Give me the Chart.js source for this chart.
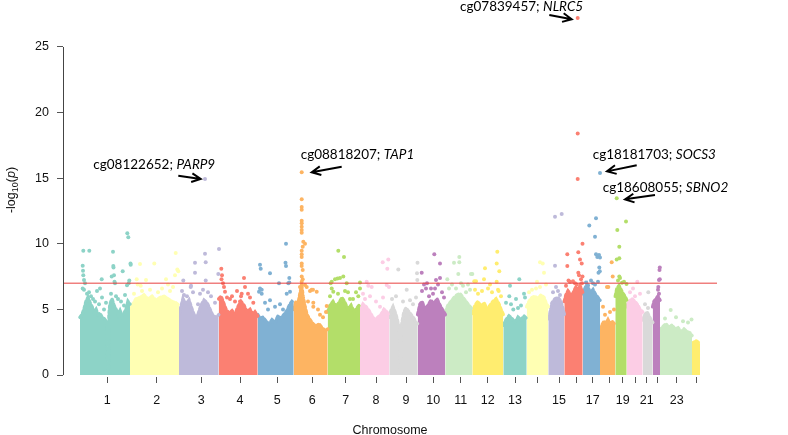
<!DOCTYPE html>
<html>
<head>
<meta charset="utf-8">
<script src="https://cdn.jsdelivr.net/npm/chart.js@4.4.1/dist/chart.umd.min.js"></script>
<style>
  html, body { margin: 0; padding: 0; background: #fff; }
  #wrap { width: 788px; height: 435px; }
</style>
</head>
<body>
<div id="wrap"><canvas id="manhattan" width="788" height="435"></canvas></div>
<script>
// chromosome axis (positions are cumulative genome units)
const chrLabels = ["1","2","3","4","5","6","7","8","9","10","11","12","13","","15","","17","","19","","21","","23",""];
const chrTicks = [27.3, 76.7, 121.3, 160, 197.3, 232.3, 265.7, 296, 326, 353.3, 380.7, 407.7, 435, 457.3, 479, 496.7, 512.7, 529.3, 542.7, 555, 566.7, 577.3, 596.7, 616.7];
const yTicks = [0, 5, 10, 15, 20, 25];
const palette = ["#8DD3C7","#FFFFB3","#BEBADA","#FB8072","#80B1D3","#FDB462","#B3DE69","#FCCDE5","#D9D9D9","#BC80BD","#CCEBC5","#FFED6F"];
const threshold = 7;

// dense lower band of each chromosome: [position, upper -log10(p)]
const chr1Body = [[0,4.4],[2,4.6],[4,5.0],[6,5.6],[8,5.9],[10,5.5],[12,5.2],[14,4.8],[16,5.0],[18,4.6],[20,4.7],[22,4.4],[24,4.3],[26,4.1],[27.4,3.8],[27.8,0.4],[28.6,0.4],[29,4.6],[30,5.4],[32,5.8],[34,5.3],[36,5.0],[38,4.6],[40,4.9],[42,4.5],[44,4.7],[46,5.0],[48,5.6],[50,5.4]];
const chr2Body = [[50,5.0],[53,5.4],[56,5.8],[60,5.9],[64,6.1],[68,5.8],[72,6.0],[76,5.7],[80,5.9],[84,6.0],[88,5.8],[92,5.6],[96,5.5],[99,5.3]];
const chr3Body = [[99,4.6],[101,5.2],[103,5.8],[106,5.4],[109,5.7],[112,5.0],[115,4.4],[118,4.6],[121,5.3],[124,5.7],[127,5.5],[130,5.0],[133,4.5],[136,4.4],[138.7,4.6]];
const chr4Body = [[138.7,5.8],[141,6.0],[143,5.6],[146,5.0],[149,4.7],[152,4.9],[155,4.6],[158,5.2],[161,5.6],[164,5.3],[167,4.8],[170,5.0],[173,4.6],[175,4.8],[177.7,4.5]];
const chr5Body = [[177.7,4.6],[180,4.3],[183,4.4],[186,4.1],[189,3.9],[192,4.2],[195,4.0],[198,4.5],[201,4.3],[204,4.6],[207,4.9],[210,5.4],[212,5.6],[213.7,5.5]];
const chr6Body = [[213.7,5.0],[216,5.6],[218,5.4],[220,6.2],[221.7,6.8],[223,6.0],[225,5.2],[227,4.6],[230,4.2],[233,3.9],[236,3.7],[239,3.9],[242,3.6],[245,3.4],[247.7,3.5]];
const chr7Body = [[247.7,4.8],[250,5.3],[253,5.6],[256,5.2],[259,5.5],[262,5.9],[265,5.5],[268,5.0],[271,5.3],[274,4.8],[277,5.1],[280,5.4]];
const chr8Body = [[280,4.9],[283,5.4],[286,5.2],[289,4.9],[292,4.5],[295,4.2],[298,4.4],[301,4.6],[304,5.0],[307,4.8],[309.3,4.5]];
const chr9Body = [[309.3,4.4],[311,4.9],[313,5.2],[315,4.8],[317,4.3],[319,3.6],[319.7,3.2],[320,0.6],[320.8,0.6],[321.2,3.4],[322,4.0],[324,4.8],[326,5.1],[328,4.9],[331,4.6],[334,4.3],[336,4.0],[337.7,3.9]];
const chr10Body = [[337.7,4.6],[340,5.4],[342,5.6],[345,5.0],[348,5.3],[351,5.7],[354,5.4],[357,5.8],[360,5.3],[363,4.9],[365.3,4.6]];
const chr11Body = [[365.3,4.8],[368,5.3],[371,5.6],[374,5.9],[377,6.1],[380,6.2],[383,5.9],[386,5.6],[389,5.3],[392.3,5.0]];
const chr12Body = [[392.3,4.7],[395,5.3],[398,5.6],[401,5.2],[404,5.5],[407,5.0],[410,5.3],[413,5.6],[416,5.8],[419,5.4],[421,5.0],[423.3,4.6]];
const chr13Body = [[423.3,3.8],[426,4.2],[429,4.5],[432,4.3],[435,4.0],[438,4.4],[441,4.2],[444,4.5],[446.7,4.3]];
const chr14Body = [[446.7,5.2],[449,5.6],[452,5.9],[455,6.0],[458,5.8],[461,6.1],[464,5.9],[466,5.5],[468.3,5.2]];
const chr15Body = [[468.3,4.3],[470,4.7],[472,5.5],[475,5.8],[478,5.9],[481,5.6],[483,5.0],[484.3,4.6]];
const chr16Body = [[484.3,5.6],[486,6.1],[488,6.4],[490,6.2],[492,6.0],[494,6.4],[496,6.7],[498,6.5],[500,6.8],[502.7,6.3]];
const chr17Body = [[502.7,6.2],[505,6.6],[507,6.9],[509,6.5],[511,6.3],[513,6.5],[515,6.2],[517,6.0],[520,5.7]];
const chr18Body = [[520,3.5],[522,3.8],[524,4.1],[526,3.9],[528,4.2],[530,3.9],[532,4.1],[535.3,3.8]];
const chr19Body = [[535.3,6.0],[537,6.6],[539,6.8],[541,6.5],[543,6.2],[545,6.0],[546.7,5.7]];
const chr20Body = [[546.7,5.2],[549,5.6],[552,5.8],[555,5.6],[558,5.3],[560,5.0],[562.7,4.8]];
const chr21Body = [[562.7,4.2],[565,4.6],[567,4.8],[569,4.5],[571,4.2],[572.7,4.0]];
const chr22Body = [[572.7,5.2],[574,5.6],[576,5.8],[578,6.0],[580,5.7]];
const chr23Body = [[580,3.4],[583,3.7],[586,3.9],[589,3.6],[592,3.8],[595,3.5],[598,3.6],[601,3.3],[604,3.5],[607,3.3],[610,3.2],[612,3.0]];
const chr24Body = [[612,2.4],[614,2.5],[616,2.6],[618,2.5],[620,2.4]];

// individual CpGs standing out above the band
const chr1Hits = [[3.3,9.47],[9.3,9.47],[2.7,8.33],[3,7.95],[3.3,7.6],[4,7.24],[5,7.0],[2.7,6.6],[4,6.5],[7,6.2],[9,6.3],[11,6.0],[13,5.8],[15,5.6],[17,6.4],[19,5.4],[20,6.6],[21.7,7.3],[22,5.9],[24,5.0],[26,5.5],[31,6.2],[31.7,7.5],[33,9.4],[33.3,8.3],[33.5,8.2],[34,7.6],[34.5,7.1],[35,7.0],[36,6.0],[38,5.8],[41,5.6],[42.7,7.9],[44,5.3],[45,6.1],[47,6.85],[47.3,10.8],[48.3,10.5],[48.7,7.0],[49.3,7.2],[50.5,8.5],[50.7,8.4]];
const chr2Hits = [[60,8.46],[74.3,8.5],[56.7,7.3],[66,7.24],[86,7.3],[95.7,9.3],[97.3,8.05],[98.3,7.9],[95,7.6],[60.7,6.8],[57.7,6.9],[62,6.4],[70,6.5],[78,6.3],[82,6.6],[90,6.4],[93,6.7],[54,6.2],[88,6.9]];
const chr3Hits = [[103.3,7.2],[111,6.8],[115,8.55],[115,7.8],[125,14.94],[125,9.25],[125.7,8.6],[125.7,7.2],[138.3,7.7],[139,9.6],[110.7,6.7],[102,6.4],[104,6.1],[107,6.0],[113,6.3],[120,6.2],[123,6.5],[128,6.3],[131,6.0],[135,5.5],[118,5.4]];
const chr4Hits = [[141.3,8.1],[142,7.6],[141.5,7.3],[143,7.0],[144,6.7],[145,6.35],[164,7.4],[170,5.9],[161,6.0],[160,5.6],[161.7,6.2],[150,5.8],[155,5.6],[147,5.9],[168,6.2],[173.3,5.5],[152,6.0],[157,6.4],[165,6.7]];
const chr5Hits = [[180,8.4],[180.7,8.1],[190,7.75],[206,10.0],[205.5,8.55],[206,8.3],[199,7.0],[209.3,7.4],[210,6.35],[206.7,6.2],[180,6.6],[179,6.35],[181.7,6.5],[181.7,6.2],[190,5.7],[208.3,7.0],[185,5.5],[195,5.2],[200,5.4],[203,5.0],[188,5.0],[209.3,7.05]];
const chr6Hits = [[221.7,15.45],[221.7,13.4],[221.7,12.8],[221.7,12.6],[221.7,11.76],[221.7,11.56],[221.7,11.3],[221.7,11.05],[221.7,10.85],[223.3,10.16],[225,10.0],[222.7,9.78],[221.7,9.47],[221.7,9.2],[221.7,9.0],[221.7,8.5],[221.7,8.3],[222.7,8.0],[221.7,7.5],[222.7,7.3],[221.7,7.1],[221.7,6.86],[225,6.86],[220,6.7],[226.7,6.7],[230,6.4],[233,6.5],[236.7,6.35],[231.7,6.5],[233.3,5.5],[233.3,5.2],[246.7,5.26],[246,4.8],[240,4.6],[228,5.6],[238,5.0],[243,4.4]];
const chr7Hits = [[258.3,9.47],[264,9.0],[251.7,7.1],[250.7,7.0],[255,7.3],[257.5,7.35],[260,7.4],[263.3,7.5],[266.7,7.0],[280,7.05],[251.7,6.6],[253.3,6.35],[265,6.4],[268,6.3],[258,6.2],[261.7,5.7],[270,5.8],[273,5.8],[278.3,6.0],[280,6.6],[276,6.3],[250,6.0]];
const chr8Hits = [[302.7,8.6],[308.3,8.8],[307.3,8.1],[286.7,7.1],[291.7,6.7],[288.3,6.8],[306.7,6.86],[309,6.7],[283,6.2],[290,6.0],[296,5.6],[300,5.2],[303,5.9],[285,5.8]];
const chr9Hits = [[318.3,8.05],[326.7,6.5],[312,5.8],[316,6.0],[323,5.6],[330,5.7],[333,5.4],[336,5.9],[337.5,8.56],[337,7.75],[337.3,7.24]];
const chr10Hits = [[341.7,7.8],[354.3,9.2],[360,8.5],[356,7.24],[360,7.4],[342,6.4],[346,6.6],[349,6.0],[353,6.2],[355,6.6],[358,6.9],[362,6.3],[364,5.9],[344,6.9],[351,6.6],[347,7.0]];
const chr11Hits = [[374,8.56],[379.3,9.0],[379.3,8.6],[378.3,7.7],[367.3,7.3],[391,7.7],[392.3,7.7],[369,6.6],[383,6.8],[390,6.5],[372,6.9],[376,6.6],[386,6.3],[381,7.0],[388,6.9]];
const chr12Hits = [[417.3,9.4],[405,8.13],[416.7,8.5],[419.3,7.9],[394.3,7.15],[396,7.15],[404,7.3],[416.7,7.1],[418,6.5],[418.7,6.4],[398,6.2],[402,6.4],[408,6.6],[412,6.3],[395,6.5],[410,6.9],[421,6.0]];
const chr13Hits = [[439.3,7.3],[430,6.8],[444,6.2],[429.3,6.0],[436,5.8],[433.3,5.0],[426,5.5],[441,5.3],[445,5.9],[431,5.4],[438,5.1]];
const chr14Hits = [[460,8.6],[462.7,8.5],[464,7.8],[457,7.1],[460,6.7],[452,6.5],[456,6.6],[466,6.9],[449,6.3]];
const chr15Hits = [[475,12.07],[481.7,12.27],[475,8.33],[473,6.3],[478,6.4],[476,6.7],[480,6.1]];
const chr16Hits = [[497.7,27.2],[497.7,18.4],[497.7,14.94],[502.5,10.0],[487.3,9.2],[498.3,9.35],[487.3,8.3],[500,8.8],[501.7,8.5],[498.3,7.8],[502.5,7.5],[490,7.1],[493,7.15],[496.7,6.9],[495,7.0],[501,7.3],[499,7.6],[486,6.8],[488.5,7.2],[502,7.0]];
const chr17Hits = [[520,15.4],[516,11.94],[509.3,11.4],[515,10.54],[516,9.2],[517.3,9.0],[520,8.95],[519,9.15],[519.3,8.2],[519.8,7.9],[518.5,7.8],[513,7.0],[515,6.9],[508,6.85],[511,7.2],[518,7.1],[506,7.05]];
const chr18Hits = [[531.7,8.6],[532.7,7.5],[527,6.7],[528.3,6.7],[523,5.2],[530,4.8],[525,4.6],[534,5.0]];
const chr19Hits = [[536.7,13.47],[546,11.7],[537.3,11.05],[539.3,9.78],[536.7,8.8],[539.3,8.9],[539.3,7.5],[546.5,6.93],[540,7.4],[542,7.03],[538,7.2],[544,7.1]];
const chr20Hits = [[557.3,7.1],[553,6.6],[560,6.2],[550,6.3],[555,6.0]];
const chr21Hits = [[568.3,6.3],[568,5.1],[565,5.4]];
const chr22Hits = [[579.8,8.2],[579.5,8.0],[579,7.24],[579.8,7.3],[578.3,6.7],[579,6.2],[578,6.5]];
const chr23Hits = [[590.7,4.95],[611.5,4.24],[596,4.4],[603,4.1],[608,4.0],[585,4.3]];
const chr24Hits = [];

const chrBodies = [chr1Body, chr2Body, chr3Body, chr4Body, chr5Body, chr6Body, chr7Body, chr8Body, chr9Body, chr10Body, chr11Body, chr12Body, chr13Body, chr14Body, chr15Body, chr16Body, chr17Body, chr18Body, chr19Body, chr20Body, chr21Body, chr22Body, chr23Body, chr24Body];
const chrHits = [chr1Hits, chr2Hits, chr3Hits, chr4Hits, chr5Hits, chr6Hits, chr7Hits, chr8Hits, chr9Hits, chr10Hits, chr11Hits, chr12Hits, chr13Hits, chr14Hits, chr15Hits, chr16Hits, chr17Hits, chr18Hits, chr19Hits, chr20Hits, chr21Hits, chr22Hits, chr23Hits, chr24Hits];

// labelled probes: text baseline start, arrow tail and head
const annoProbe = ["cg08122652; ", "cg08818207; ", "cg07839457; ", "cg18181703; ", "cg18608055; "];
const annoGene = ["PARP9", "TAP1", "NLRC5", "SOCS3", "SBNO2"];
const annoAt = [[13.3, 15.68], [220.7, 16.44], [380, 27.75], [512.7, 16.44], [522.7, 13.97]];
const arrowFrom = [[98.3, 15.19], [261.7, 15.88], [469.3, 27.44], [556.7, 15.98], [575, 13.72]];
const arrowTo = [[120.7, 14.94], [231.7, 15.45], [491.7, 27.11], [527, 15.52], [545, 13.39]];

const toXY = arr => arr.map(p => ({ x: p[0], y: p[1] }));
const datasets = [];

datasets.push({
  type: "line",
  data: [{ x: -17, y: threshold }, { x: 637, y: threshold }],
  borderColor: "#E8403F",
  borderWidth: 1,
  pointRadius: 0,
  order: 0
});

chrHits.forEach((hits, i) => {
  datasets.push({
    type: "scatter",
    data: toXY(hits),
    backgroundColor: palette[i % 12],
    borderWidth: 0,
    pointRadius: 2,
    pointHoverRadius: 2,
    order: 1
  });
});

// the band edge is stroked with a broken line so it reads as a fringe of dots
chrBodies.forEach((body, i) => {
  datasets.push({
    type: "line",
    data: toXY(body),
    backgroundColor: palette[i % 12],
    borderColor: palette[i % 12],
    borderWidth: 3.5,
    borderDash: [2.5, 2.5],
    borderCapStyle: "round",
    pointRadius: 0,
    tension: 0,
    fill: "origin",
    order: 2
  });
});

function drawArrow(ctx, x1, y1, x2, y2) {
  const a = Math.atan2(y2 - y1, x2 - x1);
  const len = 10;
  ctx.beginPath();
  ctx.moveTo(x1, y1);
  ctx.lineTo(x2, y2);
  ctx.moveTo(x2 - len * Math.cos(a - 0.45), y2 - len * Math.sin(a - 0.45));
  ctx.lineTo(x2, y2);
  ctx.lineTo(x2 - len * Math.cos(a + 0.45), y2 - len * Math.sin(a + 0.45));
  ctx.stroke();
}

const decorations = {
  id: "decorations",
  afterDraw(chart) {
    const { ctx, scales: { x, y } } = chart;
    ctx.save();

    // y axis line spans only the ticked range, as in base R
    ctx.strokeStyle = "#444";
    ctx.lineWidth = 1;
    const ax = Math.round(chart.chartArea.left) + 0.5;
    ctx.beginPath();
    ctx.moveTo(ax, y.getPixelForValue(yTicks[0]));
    ctx.lineTo(ax, y.getPixelForValue(yTicks[yTicks.length - 1]));
    ctx.stroke();

    // probe labels and arrows
    ctx.fillStyle = "#000";
    ctx.strokeStyle = "#000";
    ctx.lineWidth = 2;
    ctx.textAlign = "left";
    ctx.textBaseline = "alphabetic";
    annoProbe.forEach((t, i) => {
      const px = x.getPixelForValue(annoAt[i][0]);
      const py = y.getPixelForValue(annoAt[i][1]);
      ctx.font = "13.5px Lato";
      ctx.fillText(t, px, py, 84);
      const w = Math.min(84, ctx.measureText(t).width);
      ctx.font = "italic 13.5px Lato";
      ctx.fillText(annoGene[i], px + w, py);
      drawArrow(ctx,
        x.getPixelForValue(arrowFrom[i][0]), y.getPixelForValue(arrowFrom[i][1]),
        x.getPixelForValue(arrowTo[i][0]), y.getPixelForValue(arrowTo[i][1]));
    });

    // x title
    ctx.fillStyle = "#111";
    ctx.font = "12.5px 'Liberation Sans'";
    ctx.textAlign = "center";
    ctx.fillText("Chromosome", (chart.chartArea.left + chart.chartArea.right) / 2, 434);

    // y title: -log10(p)
    ctx.translate(14.5, 190);
    ctx.rotate(-Math.PI / 2);
    ctx.textAlign = "left";
    const parts = [
      { t: "-log", f: "12.5px 'Liberation Sans'", dy: 0 },
      { t: "10", f: "9px 'Liberation Sans'", dy: 3 },
      { t: "(", f: "12.5px 'Liberation Sans'", dy: 0 },
      { t: "p", f: "italic 12.5px 'Liberation Sans'", dy: 0 },
      { t: ")", f: "12.5px 'Liberation Sans'", dy: 0 }
    ];
    let total = 0;
    parts.forEach(p => { ctx.font = p.f; p.w = ctx.measureText(p.t).width; total += p.w; });
    let cx = -total / 2;
    parts.forEach(p => { ctx.font = p.f; ctx.fillText(p.t, cx, p.dy); cx += p.w; });
    ctx.restore();
  }
};

new Chart(document.getElementById("manhattan"), {
  data: { datasets },
  options: {
    responsive: false,
    animation: false,
    devicePixelRatio: 1,
    layout: { padding: { top: 5, right: 71, bottom: 0, left: 0 } },
    plugins: { legend: { display: false }, tooltip: { enabled: false } },
    scales: {
      x: {
        type: "linear",
        min: -17,
        max: 637,
        afterFit(scale) { scale.height = 58; scale.paddingLeft = 0; scale.paddingRight = 0; },
        afterBuildTicks(scale) { scale.ticks = chrTicks.map(v => ({ value: v })); },
        ticks: {
          autoSkip: false,
          maxRotation: 0,
          padding: 10,
          color: "#111",
          font: { family: "Liberation Sans", size: 12.5 },
          callback: (v, i) => chrLabels[i]
        },
        grid: { drawOnChartArea: false, drawTicks: true, tickLength: 6, color: "#555" },
        border: { display: false }
      },
      y: {
        type: "linear",
        min: -0.15,
        max: 28.2,
        afterFit(scale) { scale.width = 63; scale.paddingTop = 0; scale.paddingBottom = 0; },
        afterBuildTicks(scale) { scale.ticks = yTicks.map(v => ({ value: v })); },
        ticks: {
          padding: 8,
          color: "#111",
          font: { family: "Liberation Sans", size: 12.5 }
        },
        grid: { drawOnChartArea: false, drawTicks: true, tickLength: 6, color: "#555" },
        border: { display: false }
      }
    }
  },
  plugins: [decorations]
});
</script>
</body>
</html>
